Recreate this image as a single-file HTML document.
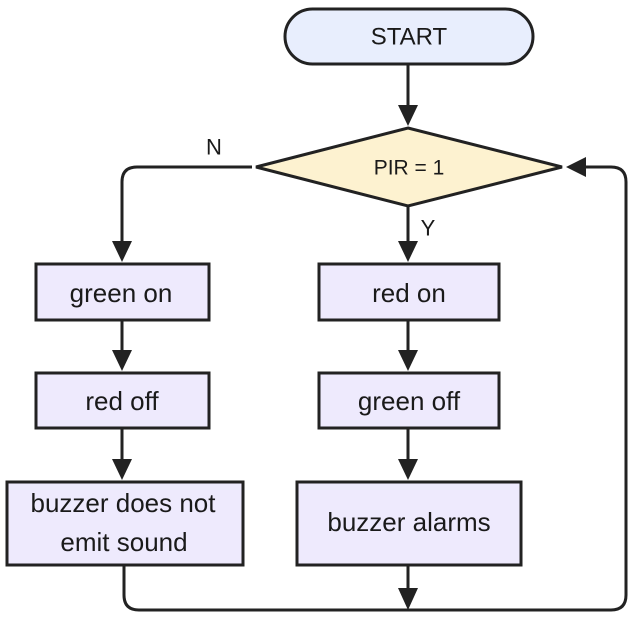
<!DOCTYPE html>
<html><head><style>
html,body{margin:0;padding:0;background:#fff;}
svg{display:block;}
text{font-family:"Liberation Sans",sans-serif;font-size:26px;fill:#1a1a1a;text-anchor:middle;dominant-baseline:central;}
</style></head><body>
<svg width="633" height="627" viewBox="0 0 633 627" xmlns="http://www.w3.org/2000/svg">
<g fill="#222">
<path d="M398,105 L418,105 L408,126 z"/>
<path d="M112,241 L132,241 L122,262 z"/>
<path d="M398,241 L418,241 L408,262 z"/>
<path d="M112,350 L132,350 L122,371 z"/>
<path d="M398,350 L418,350 L408,371 z"/>
<path d="M112,459 L132,459 L122,480 z"/>
<path d="M398,459 L418,459 L408,480 z"/>
<path d="M398,588 L418,588 L408,610 z"/>
<path d="M586,157 L586,177 L566,167 z"/>
</g>
<g stroke="#222" stroke-width="3" fill="none">
<path d="M408,64 V110"/>
<path d="M252,167 H137 Q122,167 122,182 V245"/>
<path d="M408,207 V245"/>
<path d="M122,320 V354"/>
<path d="M408,320 V354"/>
<path d="M122,428 V463"/>
<path d="M408,428 V463"/>
<path d="M124,565 V595 Q124,610 139,610 H611 Q626,610 626,595 V182 Q626,167 611,167 H580"/>
<path d="M408,565 V592"/>
</g>
<rect x="285" y="9" width="248" height="55" rx="27.5" fill="#E8EEFD" stroke="#222" stroke-width="3"/>
<text x="409" y="37" style="font-size:24px">START</text>
<polygon points="408,128 562,167 408,206 256,167" fill="#FDF2D0" stroke="#222" stroke-width="3"/>
<text x="409" y="168" style="font-size:21px">PIR = 1</text>
<text x="214" y="147" style="font-size:22px">N</text>
<text x="428" y="228" style="font-size:22px">Y</text>
<g fill="#EEEAFD" stroke="#222" stroke-width="3">
<rect x="36" y="264" width="173" height="56"/>
<rect x="319" y="264" width="180" height="56"/>
<rect x="36" y="373" width="173" height="55"/>
<rect x="319" y="373" width="180" height="55"/>
<rect x="7" y="482" width="236" height="83"/>
<rect x="297" y="482" width="224" height="83"/>
</g>
<text x="121" y="293">green on</text>
<text x="409" y="293">red on</text>
<text x="122" y="401">red off</text>
<text x="409" y="401">green off</text>
<text x="123" y="503">buzzer does not</text>
<text x="124" y="542">emit sound</text>
<text x="409" y="522">buzzer alarms</text>
</svg>
</body></html>
